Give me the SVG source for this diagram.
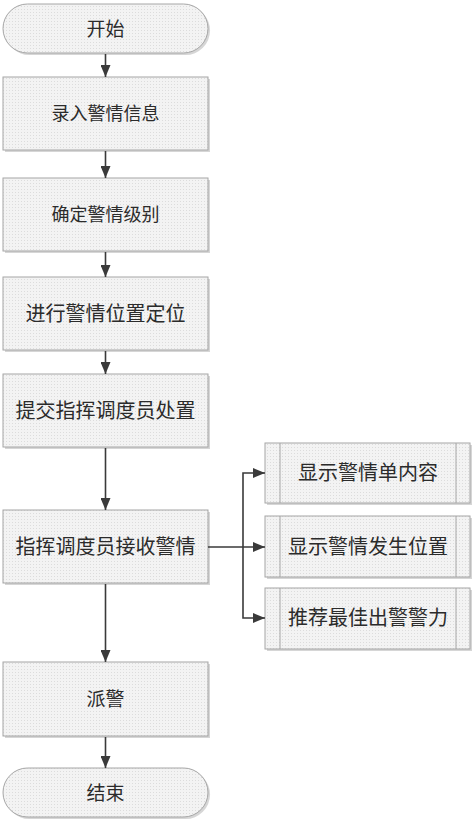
<svg xmlns="http://www.w3.org/2000/svg" width="474" height="821" viewBox="0 0 474 821">
<defs>
<pattern id="dots" width="3" height="3" patternUnits="userSpaceOnUse">
<rect width="3" height="3" fill="#f3f3f3"/>
<rect width="1" height="1" fill="#dcdcdc"/>
</pattern>
<marker id="arr" markerWidth="12" markerHeight="10" refX="12" refY="5" orient="auto" markerUnits="userSpaceOnUse">
<path d="M0,0 L12,5 L0,10 Z" fill="#3a3a3a"/>
</marker>
</defs>
<style>
.shape{fill:url(#dots);stroke:#a6a6a6;stroke-width:1}
.shadow{fill:#d6d6d6;stroke:none}
.inner{stroke:#a6a6a6;stroke-width:1;fill:none}
.t{font-family:"Liberation Serif","Noto Sans CJK SC",serif;fill:#2b2b2b;text-anchor:middle;dominant-baseline:central}
.c{stroke:#3a3a3a;stroke-width:1.6;fill:none}
</style>
<rect width="474" height="821" fill="#ffffff"/>
<g id="start">
<rect class="shadow" x="5" y="6" width="205" height="49" rx="24.5"/>
<rect class="shape" x="3" y="4" width="205" height="49" rx="24.5"/>
<text class="t" x="105.5" y="29" font-size="19">开始</text>
</g>
<g id="n1">
<rect class="shadow" x="5" y="79" width="205" height="73"/>
<rect class="shape" x="3" y="77" width="205" height="73"/>
<text class="t" x="105.5" y="114" font-size="18">录入警情信息</text>
</g>
<g id="n2">
<rect class="shadow" x="5" y="180" width="205" height="73"/>
<rect class="shape" x="3" y="178" width="205" height="73"/>
<text class="t" x="105.5" y="215" font-size="18">确定警情级别</text>
</g>
<g id="n3">
<rect class="shadow" x="5" y="279" width="205" height="73"/>
<rect class="shape" x="3" y="277" width="205" height="73"/>
<text class="t" x="105.5" y="314" font-size="20">进行警情位置定位</text>
</g>
<g id="n4">
<rect class="shadow" x="5" y="376" width="205" height="73"/>
<rect class="shape" x="3" y="374" width="205" height="73"/>
<text class="t" x="105.5" y="411" font-size="20">提交指挥调度员处置</text>
</g>
<g id="n5">
<rect class="shadow" x="5" y="512" width="205" height="73"/>
<rect class="shape" x="3" y="510" width="205" height="73"/>
<text class="t" x="105.5" y="547" font-size="20">指挥调度员接收警情</text>
</g>
<g id="n6">
<rect class="shadow" x="5" y="664" width="205" height="74"/>
<rect class="shape" x="3" y="662" width="205" height="74"/>
<text class="t" x="105.5" y="699" font-size="19">派警</text>
</g>
<g id="end">
<rect class="shadow" x="5" y="770" width="205" height="49" rx="24.5"/>
<rect class="shape" x="3" y="768" width="205" height="49" rx="24.5"/>
<text class="t" x="105.5" y="793" font-size="19">结束</text>
</g>
<g id="r1">
<rect class="shadow" x="267" y="445" width="205" height="60"/>
<rect class="shape" x="265" y="443" width="205" height="60"/>
<line class="inner" x1="280" y1="443" x2="280" y2="503"/>
<line class="inner" x1="456" y1="443" x2="456" y2="503"/>
<text class="t" x="368" y="473" font-size="20">显示警情单内容</text>
</g>
<g id="r2">
<rect class="shadow" x="267" y="518" width="205" height="61"/>
<rect class="shape" x="265" y="516" width="205" height="61"/>
<line class="inner" x1="280" y1="516" x2="280" y2="577"/>
<line class="inner" x1="456" y1="516" x2="456" y2="577"/>
<text class="t" x="368" y="547" font-size="20">显示警情发生位置</text>
</g>
<g id="r3">
<rect class="shadow" x="267" y="590" width="205" height="61"/>
<rect class="shape" x="265" y="588" width="205" height="61"/>
<line class="inner" x1="280" y1="588" x2="280" y2="649"/>
<line class="inner" x1="456" y1="588" x2="456" y2="649"/>
<text class="t" x="368" y="618" font-size="20">推荐最佳出警警力</text>
</g>
<g id="connectors">
<line class="c" x1="105.5" y1="54" x2="105.5" y2="77" marker-end="url(#arr)"/>
<line class="c" x1="105.5" y1="151" x2="105.5" y2="178" marker-end="url(#arr)"/>
<line class="c" x1="105.5" y1="252" x2="105.5" y2="277" marker-end="url(#arr)"/>
<line class="c" x1="105.5" y1="351" x2="105.5" y2="374" marker-end="url(#arr)"/>
<line class="c" x1="105.5" y1="448" x2="105.5" y2="510" marker-end="url(#arr)"/>
<line class="c" x1="105.5" y1="584" x2="105.5" y2="662" marker-end="url(#arr)"/>
<line class="c" x1="105.5" y1="737" x2="105.5" y2="768" marker-end="url(#arr)"/>
<line class="c" x1="208" y1="547" x2="265" y2="547" marker-end="url(#arr)"/>
<polyline class="c" points="243,547 243,473 265,473" marker-end="url(#arr)"/>
<polyline class="c" points="243,547 243,618 265,618" marker-end="url(#arr)"/>
</g>
</svg>
